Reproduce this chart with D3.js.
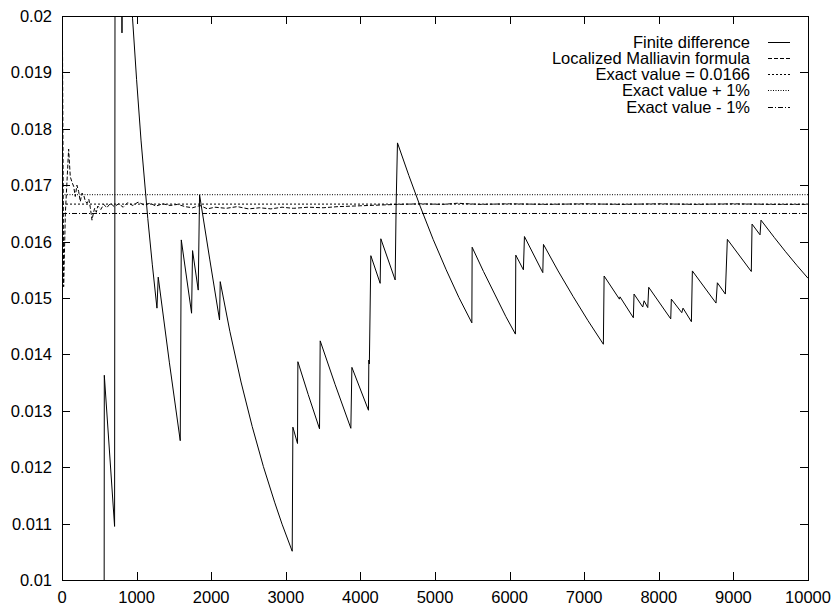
<!DOCTYPE html>
<html lang="en">
<head>
  <meta charset="UTF-8">
  <title>Finite difference vs Localized Malliavin formula</title>
  <script src="https://d3js.org/d3.v7.min.js"></script>
  <style>
    body { background: #fff; margin: 0; }
    svg { display: block; }
    text { font-family: "Liberation Sans", Arial, Helvetica, sans-serif; font-size: 16.5px; fill: #000; }
    .frame { fill: none; stroke: #000; stroke-width: 1; }
    .tick { stroke: #000; stroke-width: 1; }
    .curve { fill: none; stroke: #000; stroke-width: 1; }
  </style>
</head>
<body>
  <svg width="835" height="606"></svg>

  <script>
    // ---- data ----
    const xTicks = [0, 1000, 2000, 3000, 4000, 5000, 6000, 7000, 8000, 9000, 10000];
    const yTicks = [0.01, 0.011, 0.012, 0.013, 0.014, 0.015, 0.016, 0.017, 0.018, 0.019, 0.02];
    const yTickLabels = ["0.01", "0.011", "0.012", "0.013", "0.014", "0.015", "0.016", "0.017", "0.018", "0.019", "0.02"];

    const exactValue = 0.016665;
    const exactLabel = "0.0166";

    // finite difference estimate: [n, value]
    const finiteDiff = [
      [0, 0], [560, 0], [567, 0.01363], [705, 0.01095], [714, 0.0264],
      [800, 0.0236], [804, 0.0197], [808, 0.0234], [946, 0.01995], [1000, 0.01887],
      [1059, 0.0178], [1150, 0.01641], [1210, 0.0156], [1273, 0.01482], [1290, 0.01537],
      [1440, 0.01385], [1585, 0.01247], [1599, 0.01603], [1737, 0.01473], [1750, 0.01584],
      [1826, 0.01514], [1844, 0.01683], [1980, 0.01569], [2112, 0.01461], [2121, 0.01529],
      [2250, 0.01441], [2400, 0.01351], [2550, 0.01272], [2700, 0.01201], [2850, 0.01138],
      [2950, 0.01099], [3086, 0.01051], [3095, 0.01271], [3157, 0.01242], [3162, 0.01387],
      [3300, 0.01329], [3452, 0.01268], [3461, 0.01424], [3660, 0.01347], [3872, 0.01269],
      [3886, 0.01377], [4108, 0.01301], [4113, 0.0139], [4120, 0.01383], [4140, 0.01575],
      [4265, 0.01526], [4274, 0.01605], [4466, 0.01532], [4479, 0.01665], [4497, 0.01775],
      [4650, 0.01717], [4800, 0.01663], [4975, 0.01604], [5150, 0.0155], [5320, 0.01501],
      [5494, 0.01456], [5498, 0.0159], [5650, 0.01547], [5800, 0.01507], [5950, 0.01467],
      [6078, 0.01436], [6083, 0.01576], [6185, 0.0155], [6199, 0.01609], [6445, 0.01545],
      [6454, 0.01595], [6650, 0.01548], [6850, 0.01503], [7050, 0.0146], [7257, 0.01418],
      [7267, 0.01539], [7472, 0.01498], [7480, 0.01502], [7659, 0.01465], [7668, 0.01507],
      [7785, 0.01484], [7803, 0.01495], [7852, 0.01483], [7865, 0.01519], [8160, 0.01463],
      [8168, 0.01498], [8308, 0.01474], [8325, 0.01482], [8437, 0.01458], [8450, 0.01548],
      [8767, 0.01491], [8785, 0.01527], [8892, 0.01507], [8919, 0.01604], [9240, 0.01547],
      [9250, 0.01631], [9357, 0.01612], [9370, 0.01638], [9550, 0.01607], [9700, 0.01582],
      [9850, 0.01558], [10000, 0.01535]
    ];

    // localized Malliavin formula estimate: [n, value]
    const malliavin = [
      [6, 0.0197], [22, 0.0152], [45, 0.0165], [89, 0.01764], [111, 0.01715],
      [135, 0.01705], [156, 0.01698], [178, 0.0168], [200, 0.017], [223, 0.01689],
      [245, 0.01671], [268, 0.01686], [290, 0.01683], [312, 0.01672], [335, 0.01668],
      [360, 0.01675], [380, 0.0166], [402, 0.01638], [420, 0.0165], [437, 0.01659],
      [460, 0.01652], [480, 0.01663], [520, 0.01657], [560, 0.01666], [600, 0.0166],
      [650, 0.01668], [700, 0.01662], [760, 0.01667], [820, 0.01661], [880, 0.01669],
      [950, 0.01664], [1020, 0.0167], [1100, 0.01665], [1180, 0.01668], [1260, 0.01663],
      [1350, 0.01667], [1450, 0.01664], [1550, 0.01666], [1650, 0.01662], [1750, 0.0166],
      [1850, 0.01664], [1950, 0.01658], [2050, 0.01661], [2200, 0.01659], [2350, 0.01662],
      [2500, 0.01658], [2650, 0.0166], [2800, 0.01658], [2950, 0.01661], [3100, 0.01659],
      [3300, 0.01661], [3500, 0.0166], [3700, 0.01662], [3900, 0.01663], [4100, 0.01664],
      [4300, 0.01665], [4500, 0.01666], [4800, 0.01667], [5100, 0.01666], [5300, 0.01668],
      [5600, 0.01666], [6000, 0.01667], [6500, 0.01666], [7000, 0.01667], [7500, 0.01666],
      [8000, 0.01667], [8500, 0.01666], [9000, 0.01667], [9500, 0.01666], [10000, 0.01666]
    ];

    const svg = d3.select("svg");
    const margin = { left: 62, top: 16, right: 27, bottom: 26 };
    const W = 835 - margin.left - margin.right;
    const H = 606 - margin.top - margin.bottom;

    const x = d3.scaleLinear().domain([0, 10000]).range([0, W]);
    const y = d3.scaleLinear().domain([0.01, 0.02]).range([H, 0]);

    const g = svg.append("g").attr("transform", `translate(${margin.left},${margin.top})`);

    svg.append("defs").append("clipPath").attr("id", "plot-clip")
      .append("rect").attr("width", W).attr("height", H);

    // ticks (inward, mirrored like gnuplot)
    const tickLen = 8;
    yTicks.forEach((v, i) => {
      const yy = Math.round(y(v)) + 0.5;
      g.append("line").attr("class", "tick").attr("x1", 0).attr("x2", tickLen).attr("y1", yy).attr("y2", yy);
      g.append("line").attr("class", "tick").attr("x1", W - tickLen).attr("x2", W).attr("y1", yy).attr("y2", yy);
      g.append("text")
        .attr("x", -10).attr("y", y(v) + 6)
        .attr("text-anchor", "end")
        .text(yTickLabels[i]);
    });
    xTicks.forEach(v => {
      const xx = Math.round(x(v)) + 0.5;
      g.append("line").attr("class", "tick").attr("x1", xx).attr("x2", xx).attr("y1", H).attr("y2", H - tickLen);
      g.append("line").attr("class", "tick").attr("x1", xx).attr("x2", xx).attr("y1", 0).attr("y2", tickLen);
      g.append("text")
        .attr("x", x(v)).attr("y", H + 23)
        .attr("text-anchor", "middle")
        .text(v);
    });

    const plot = g.append("g").attr("clip-path", "url(#plot-clip)");
    const line = d3.line().x(d => x(d[0])).y(d => y(d[1]));

    const series = [
      { name: "Finite difference", data: finiteDiff, dash: null },
      { name: "Localized Malliavin formula", data: malliavin, dash: "4,2" },
      { name: `Exact value = ${exactLabel}`, data: [[0, exactValue], [10000, exactValue]], dash: "2,2" },
      { name: "Exact value + 1%", data: [[0, exactValue * 1.01], [10000, exactValue * 1.01]], dash: "1,1.5" },
      { name: "Exact value - 1%", data: [[0, exactValue * 0.99], [10000, exactValue * 0.99]], dash: "5,2,1,2" }
    ];

    series.forEach(s => {
      plot.append("path")
        .datum(s.data)
        .attr("class", "curve")
        .attr("stroke-dasharray", s.dash)
        .attr("d", line);
    });

    // legend, top right
    const legend = g.append("g").attr("transform", `translate(${W}, 0)`);
    series.forEach((s, i) => {
      const cy = 25.5 + i * 16.3;
      legend.append("text")
        .attr("x", -58).attr("y", cy + 6)
        .attr("text-anchor", "end")
        .text(s.name);
      legend.append("line")
        .attr("class", "curve")
        .attr("x1", -40).attr("x2", -18)
        .attr("y1", Math.round(cy) + 0.5).attr("y2", Math.round(cy) + 0.5)
        .attr("stroke-dasharray", s.dash);
    });

    g.append("rect").attr("class", "frame")
      .attr("x", 0.5).attr("y", 0.5).attr("width", W).attr("height", H);
  </script>
</body>
</html>
